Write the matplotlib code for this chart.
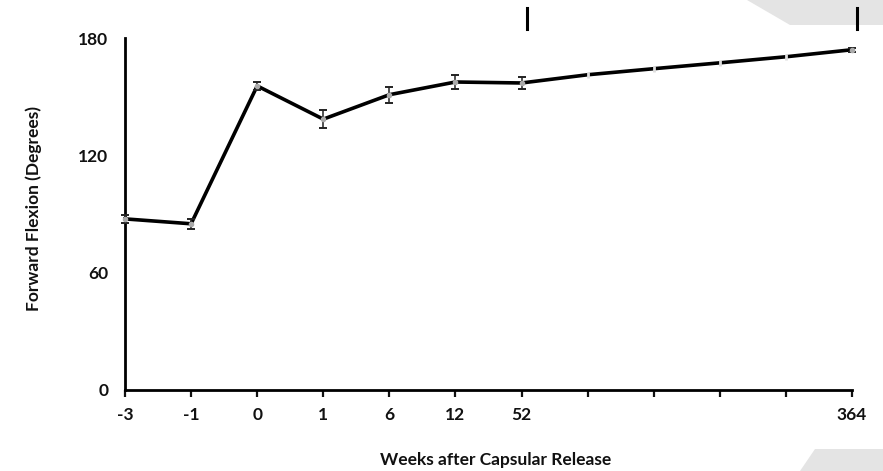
import matplotlib
matplotlib.use("Agg")
import matplotlib.pyplot as plt
from matplotlib.patches import Polygon
import numpy as np

weeks_labels = ["-3", "-1", "0", "1", "6", "12", "52", "", "", "", "", "364"]
flexion = [87.5, 85.0, 155.5, 138.5, 151.0, 157.5, 157.0, 161.2, 164.3, 167.3, 170.4, 174.0]
flexion_err = [2.0, 2.5, 2.0, 4.5, 4.0, 3.8, 3.0, 0.0, 0.0, 0.0, 0.0, 1.0]
measured = [True, True, True, True, True, True, True, False, False, False, False, True]
y_ticks = [0, 60, 120, 180]

plt.rcParams['font.family'] = ['Lato', 'DejaVu Sans']
plt.rcParams['font.weight'] = 'bold'

fig = plt.figure(figsize=(8.83, 4.71), dpi=100)
ax = fig.add_axes([125/883, 1-390/471, (852-125)/883, (390-38)/471])

x = np.arange(len(flexion))
ax.plot(x, flexion, color='black', lw=2.6, solid_joinstyle='miter', zorder=2, clip_on=False)

mx = [xi for xi, m in zip(x, measured) if m]
my = [v for v, m in zip(flexion, measured) if m]
me = [e for e, m in zip(flexion_err, measured) if m]
ax.errorbar(mx, my, yerr=me, fmt='o', ms=3, mfc='#aaaaaa', mec='#aaaaaa',
            ecolor='#222222', elinewidth=1.1, capsize=3, capthick=1.4, zorder=3, clip_on=False)

ux = [xi for xi, m in zip(x, measured) if not m]
uy = [v for v, m in zip(flexion, measured) if not m]
ax.plot(ux, uy, ls='none', marker='|', ms=5, mew=2, color='#dddddd', zorder=4)

ax.set_xlim(0, len(flexion) - 1)
ax.set_ylim(0, 180)
ax.set_xticks(x)
ax.set_xticklabels(weeks_labels)
ax.set_yticks(y_ticks)
ax.set_yticklabels([str(t) for t in y_ticks])

for s in ['top', 'right']:
    ax.spines[s].set_visible(False)
for s in ['left', 'bottom']:
    ax.spines[s].set_linewidth(2.0)
    ax.spines[s].set_color('black')

ax.tick_params(axis='x', direction='out', length=5, width=1.6, pad=7, labelsize=12.5, colors='#111111')
ax.tick_params(axis='y', length=0, pad=12, labelsize=12.5, colors='#111111')

ax.set_xlabel("Weeks after Capsular Release", fontsize=12.5, fontweight='bold', color='#111111')
ax.xaxis.set_label_coords((496-125)/727, (390-452)/352)
ax.set_ylabel("Forward Flexion (Degrees)", fontsize=12.5, fontweight='bold', color='#111111')
ax.yaxis.set_label_coords((42-125)/727, (390-208)/352)

# cropped bracket remnants at top
for px in (527, 857):
    fig.add_artist(plt.Line2D([px/883, px/883], [1-8/471, 1-29/471], color='black', lw=2.2))

# scan artefacts (grey page edges)
fig.add_artist(Polygon([[747/883, 1], [883/883, 1], [883/883, 1-25/471], [790/883, 1-25/471]],
                       closed=True, transform=fig.transFigure, facecolor='#e4e4e4', edgecolor='none'))
fig.add_artist(Polygon([[800/883, 0], [883/883, 0], [883/883, 22/471], [815/883, 22/471]],
                       closed=True, transform=fig.transFigure, facecolor='#e4e4e4', edgecolor='none'))

fig.savefig("out.png", dpi=100)
